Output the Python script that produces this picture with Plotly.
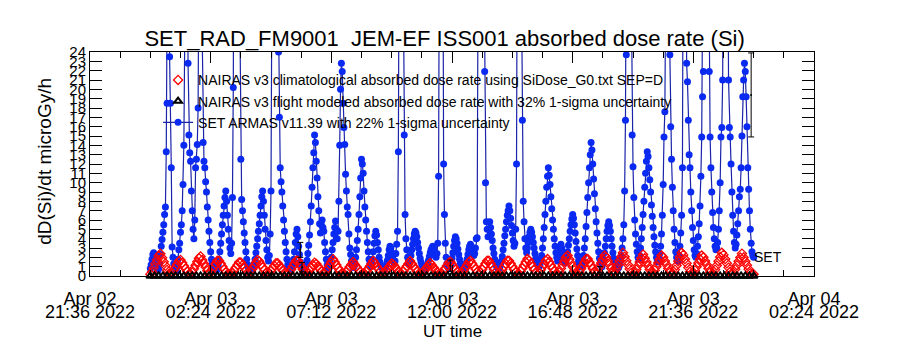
import pandas as pd
import plotly.graph_objects as go

# ---------------- data ----------------
START = pd.Timestamp("2022-04-03 00:00")

# SET ARMAS absorbed dose rate (microGy/h), 2-minute samples, one row per hour
SET_RATE_ROWS = [
    [0.8, 1.2, 1.8, 2.3, 2.5, 2.2, 1.6, 1.0, 0.7, 0.6, 0.8, 1.3, 2.3, 3.2, 3.9, 4.7, 5.5, 6.6, 7.4, 13.3, 18.5, 45, 60, 23.5, 18.5, 11.6, 3.1, 2.0, 1.3, 0.9],
    [0.8, 0.6, 1.0, 1.8, 2.8, 3.5, 4.7, 5.5, 7.0, 9.8, 14.0, 25, 60, 80, 40, 22.8, 15.1, 13.2, 12.3, 9.1, 7.0, 5.0, 4.0, 6.0, 11.6, 12.5, 14.1, 18.0, 35, 60],
    [70, 45, 25, 14.3, 12.3, 11.6, 10.1, 9.0, 7.4, 6.0, 4.8, 3.6, 2.6, 1.8, 1.3, 1.0, 0.8, 0.6, 0.5, 0.6, 0.8, 1.2, 1.8, 2.6, 3.5, 4.5, 5.5, 6.5, 7.5, 8.4],
    [9.1, 8.0, 6.5, 5.0, 3.8, 3.0, 2.4, 3.5, 8.4, 20.2, 50, 90, 100, 90, 70, 50, 35, 25, 12.5, 8.2, 7.0, 5.8, 4.6, 3.6, 2.6, 1.8, 1.2, 0.9, 0.7, 0.6],
    [0.6, 0.6, 0.7, 0.9, 1.3, 1.8, 2.5, 3.2, 4.0, 4.8, 5.6, 6.5, 7.5, 8.5, 9.1, 8.0, 6.5, 5.0, 3.8, 2.8, 2.0, 1.6, 2.2, 4.5, 9.1, 30, 70, 100, 100, 90],
    [70, 50, 35, 24, 17, 11.6, 10.1, 9.0, 7.5, 6.0, 4.8, 3.6, 2.6, 1.8, 1.2, 0.9, 0.7, 0.6, 0.7, 0.9, 1.3, 1.8, 2.6, 3.6, 4.5, 5.0, 4.2, 3.2, 2.3, 1.5],
    [1.0, 0.8, 0.6, 0.6, 0.7, 0.9, 1.2, 1.7, 2.4, 3.3, 4.4, 5.8, 7.5, 9.5, 11.6, 13.2, 15.1, 14.3, 12.3, 10.5, 8.5, 7.0, 5.6, 4.6, 5.5, 6.0, 5.2, 4.8, 3.6, 2.6],
    [1.8, 1.2, 0.9, 0.8, 1.0, 1.4, 2.0, 2.8, 3.6, 4.5, 5.2, 5.9, 5.0, 4.0, 4.8, 8.0, 14.0, 20.0, 22.8, 21.9, 18.5, 15.9, 14.1, 10.9, 9.1, 7.4, 6.6, 4.5, 3.0, 2.3],
    [1.6, 1.1, 0.9, 1.0, 1.4, 2.0, 2.8, 3.8, 5.0, 6.6, 8.5, 10.5, 12.5, 12.0, 11.0, 9.1, 7.4, 6.0, 4.8, 3.6, 2.6, 1.8, 1.3, 1.0, 1.2, 1.8, 2.6, 3.5, 4.3, 4.8],
    [4.4, 3.6, 2.8, 2.0, 1.5, 1.1, 0.9, 0.8, 0.7, 0.7, 0.8, 1.0, 1.3, 1.7, 2.2, 2.8, 3.2, 3.0, 2.5, 2.0, 1.6, 1.4, 1.6, 2.4, 3.4, 4.8, 13.3, 40, 90, 100],
    [80, 50, 30, 15.1, 6.6, 4.0, 2.8, 2.0, 1.5, 1.3, 1.6, 2.2, 2.8, 3.4, 4.0, 4.5, 4.8, 4.6, 4.2, 3.6, 3.0, 2.4, 1.9, 1.5, 1.2, 1.0, 0.8, 0.7, 0.7, 0.8],
    [1.0, 1.3, 1.7, 2.1, 2.5, 2.8, 3.0, 3.2, 3.0, 2.6, 2.2, 2.0, 2.4, 3.5, 10.7, 40, 90, 100, 70, 30, 12, 6.6, 3.5, 2.0, 1.3, 1.0, 0.8, 0.8, 1.0, 1.4],
    [1.9, 2.5, 3.2, 3.8, 4.2, 4.0, 3.5, 2.9, 2.3, 1.8, 1.4, 1.1, 0.9, 0.8, 0.8, 0.9, 1.1, 1.4, 1.8, 2.3, 2.8, 3.2, 3.4, 3.2, 2.8, 2.5, 2.2, 2.4, 3.0, 4.0],
    [4.1, 30, 70, 100, 100, 90, 70, 50, 35, 21.9, 10, 5.8, 5.0, 4.2, 5.0, 5.8, 5.2, 4.5, 3.8, 3.0, 2.4, 1.8, 1.4, 1.1, 0.9, 0.8, 0.8, 0.9, 1.2, 1.6],
    [2.1, 2.8, 3.5, 4.3, 5.0, 5.8, 6.5, 7.0, 7.5, 7.0, 6.2, 5.4, 4.6, 3.8, 3.2, 3.5, 5.0, 12, 40, 90, 100, 80, 50, 30, 16.7, 8.0, 5.8, 4.0, 3.0, 2.5],
    [3.0, 3.6, 4.2, 4.7, 5.0, 4.7, 4.2, 3.6, 3.0, 2.4, 1.9, 1.5, 1.2, 1.0, 1.0, 1.2, 1.6, 2.2, 3.0, 4.0, 5.2, 6.6, 8.0, 9.5, 10.7, 11.6, 10.8, 9.8, 8.5, 7.2],
    [6.0, 5.0, 4.0, 3.2, 2.5, 2.0, 1.6, 1.8, 2.4, 3.0, 3.4, 3.0, 2.5, 2.0, 1.6, 1.4, 1.6, 2.0, 2.6, 3.3, 4.0, 4.8, 5.5, 6.1, 6.6, 6.2, 5.5, 4.6, 3.7, 2.9],
    [2.2, 1.6, 1.2, 1.0, 1.0, 1.2, 1.6, 2.2, 3.0, 4.0, 5.3, 6.8, 8.4, 10.0, 11.6, 13.0, 14.3, 13.5, 12.0, 10.4, 8.8, 7.2, 5.8, 4.6, 3.5, 2.6, 1.9, 1.4, 1.1, 1.0],
    [1.3, 1.8, 2.5, 3.2, 4.0, 4.8, 5.4, 5.8, 5.4, 4.8, 4.0, 3.2, 2.5, 1.9, 1.4, 1.1, 0.9, 0.8, 0.8, 0.9, 1.2, 1.6, 2.2, 3.0, 4.0, 5.5, 9.1, 16.7, 23.7, 50],
    [90, 100, 80, 50, 30, 15.1, 11.7, 8.4, 6.0, 4.5, 3.4, 2.6, 2.0, 1.8, 2.2, 3.0, 4.0, 5.2, 6.6, 8.0, 9.5, 11.0, 12.3, 13.3, 12.8, 11.6, 10.3, 9.0, 7.6, 6.4],
    [5.2, 4.2, 3.3, 2.6, 2.0, 1.6, 1.5, 1.8, 2.4, 3.2, 4.5, 6.5, 9.8, 14.9, 17.6, 30, 70, 100, 100, 60, 23.7, 16.0, 12.5, 9.5, 7.0, 5.0, 3.6, 2.6, 2.0, 1.6],
    [1.6, 2.2, 3.2, 4.6, 6.5, 11.6, 40, 90, 100, 60, 22.8, 20.8, 16.7, 13.0, 11.6, 9.0, 7.0, 5.2, 3.8, 2.8, 2.2, 2.0, 2.4, 3.2, 4.2, 5.6, 7.5, 10.7, 14.9, 19.2],
    [21.9, 40, 80, 100, 100, 70, 40, 21.9, 14.9, 11.6, 9.0, 6.8, 5.2, 4.0, 3.2, 2.8, 3.0, 3.6, 5.0, 7.0, 10.0, 14.9, 15.9, 21.0, 40, 80, 100, 100, 70, 40],
    [21.0, 15.9, 14.9, 12.0, 9.0, 6.5, 4.8, 3.6, 3.0, 3.4, 4.4, 5.6, 7.0, 8.5, 9.3, 11.6, 15.0, 19.2, 21.0, 22.8, 21.9, 19.2, 16.0, 11.6, 9.3, 7.0, 5.0, 3.5, 2.6, 2.2, 2.0],
]
SET_STEP_MIN = 2

# NAIRAS v3 climatological absorbed dose rate, 4-minute samples, one row per hour
NAIRAS_CLIM_ROWS = [
    [0.2, 0.43, 0.87, 1.30, 1.74, 2.17, 2.39, 1.96, 1.52, 1.09, 0.65, 0.22, 0.2, 0.31, 0.63],
    [0.94, 1.25, 1.57, 1.72, 1.41, 1.10, 0.78, 0.47, 0.2, 0.2, 0.38, 0.77, 1.15, 1.53, 1.91],
    [2.1, 1.72, 1.34, 0.96, 0.57, 0.2, 0.39, 0.70, 1.02, 1.33, 1.64, 1.64, 1.33, 1.02, 0.70],
    [0.39, 0.2, 0.2, 0.2, 0.35, 0.63, 0.90, 1.18, 1.46, 1.46, 1.18, 0.90, 0.63, 0.35, 0.2],
    [0.47, 0.78, 1.10, 1.41, 1.72, 1.57, 1.25, 0.94, 0.63, 0.31, 0.2, 0.33, 0.59, 0.85, 1.11],
    [1.37, 1.37, 1.11, 0.85, 0.59, 0.33, 0.2, 0.2, 0.39, 0.70, 1.02, 1.33, 1.64, 1.64, 1.33],
    [1.02, 0.70, 0.39, 0.2, 0.39, 0.65, 0.91, 1.17, 1.43, 1.30, 1.04, 0.78, 0.52, 0.26, 0.23],
    [0.55, 0.86, 1.17, 1.49, 1.8, 1.49, 1.17, 0.86, 0.55, 0.23, 0.2, 0.2, 0.46, 0.72, 0.98],
    [1.24, 1.5, 1.24, 0.98, 0.72, 0.46, 0.2, 0.2, 0.21, 0.49, 0.77, 1.04, 1.32, 1.6, 1.32],
    [1.04, 0.77, 0.49, 0.21, 0.2, 0.37, 0.61, 0.85, 1.10, 1.34, 1.22, 0.97, 0.73, 0.49, 0.24],
    [0.21, 0.49, 0.77, 1.04, 1.32, 1.6, 1.32, 1.04, 0.77, 0.49, 0.21, 0.2, 0.2, 0.43, 0.67],
    [0.91, 1.16, 1.4, 1.16, 0.91, 0.67, 0.43, 0.2, 0.2, 0.28, 0.56, 0.83, 1.11, 1.39, 1.53],
    [1.25, 0.97, 0.70, 0.42, 0.2, 0.2, 0.30, 0.59, 0.89, 1.18, 1.48, 1.63, 1.33, 1.04, 0.74],
    [0.44, 0.2, 0.39, 0.70, 1.02, 1.33, 1.64, 1.64, 1.33, 1.02, 0.70, 0.39, 0.2, 0.2, 0.39],
    [0.70, 1.02, 1.33, 1.64, 1.64, 1.33, 1.02, 0.70, 0.39, 0.2, 0.2, 0.50, 0.83, 1.16, 1.49],
    [1.82, 1.65, 1.32, 0.99, 0.66, 0.33, 0.2, 0.33, 0.66, 0.99, 1.32, 1.65, 1.82, 1.49, 1.16],
    [0.83, 0.50, 0.2, 0.2, 0.4, 0.8, 1.2, 1.6, 2.0, 2.2, 1.8, 1.4, 1.0, 0.6, 0.2],
    [0.2, 0.43, 0.78, 1.13, 1.48, 1.83, 1.83, 1.48, 1.13, 0.78, 0.43, 0.2, 0.6, 1.0, 1.4],
    [1.8, 2.2, 2.0, 1.6, 1.2, 0.8, 0.4, 0.33, 0.76, 1.20, 1.63, 2.07, 2.5, 2.07, 1.63],
    [1.20, 0.76, 0.33, 0.2, 0.3, 0.7, 1.1, 1.5, 1.9, 2.3, 1.9, 1.5, 1.1, 0.7, 0.3],
    [0.2, 0.6, 1.0, 1.4, 1.8, 2.2, 2.0, 1.6, 1.2, 0.8, 0.4, 0.2, 0.23, 0.68, 1.13],
    [1.58, 2.03, 2.49, 2.26, 1.81, 1.36, 0.90, 0.45, 0.2, 0.2, 0.6, 1.0, 1.4, 1.8, 2.2],
    [2.0, 1.6, 1.2, 0.8, 0.4, 0.2, 0.23, 0.68, 1.13, 1.58, 2.03, 2.49, 2.26, 1.81, 1.36],
    [0.90, 0.45, 0.2, 0.31, 0.73, 1.15, 1.57, 1.98, 2.4, 1.98, 1.57, 1.15, 0.73, 0.31, 0.2, 0.2],
]
NAIRAS_CLIM_STEP_MIN = 4

# NAIRAS v3 flight-modeled absorbed dose rate, 10-minute samples (sits on zero)
NAIRAS_FLIGHT_ROWS = [
    [0, 0, 0, 0, 0, 0], [0, 0, 0, 0, 0, 0], [0, 0, 0, 0, 0, 0], [0, 0, 0, 0, 0, 0],
    [0, 0, 0, 0, 0, 0], [0, 0, 0, 0, 0, 0], [0, 0, 0, 0, 0, 0], [0, 0, 0, 0, 0, 0],
    [0, 0, 0, 0, 0, 0], [0, 0, 0, 0, 0, 0], [0, 0, 0, 0, 0, 0], [0, 0, 0, 0, 0, 0],
    [0, 0, 0, 0, 0, 0], [0, 0, 0, 0, 0, 0], [0, 0, 0, 0, 0, 0], [0, 0, 0, 0, 0, 0],
    [0, 0, 0, 0, 0, 0], [0, 0, 0, 0, 0, 0], [0, 0, 0, 0, 0, 0], [0, 0, 0, 0, 0, 0],
    [0, 0, 0, 0, 0, 0], [0, 0, 0, 0, 0, 0], [0, 0, 0, 0, 0, 0], [0, 0, 0, 0, 0, 0, 0],
]
NAIRAS_FLIGHT_STEP_MIN = 10

# points carrying 1-sigma error bars (minutes after 2022-04-03 00:00)
ERR_MINUTES = [358, 362, 716, 1073, 1434]
ERR_VALUES = [2.8, 0.95, 1.1, 0.7, 19.4]
ERR_SIGMA = [0.8, 0.5, 0.6, 0.3, 4.5]

X_TICK_VALS = ["2022-04-02 21:36", "2022-04-03 02:24", "2022-04-03 07:12", "2022-04-03 12:00",
               "2022-04-03 16:48", "2022-04-03 21:36", "2022-04-04 02:24"]
X_TICK_DATES = ["Apr 02", "Apr 03", "Apr 03", "Apr 03", "Apr 03", "Apr 03", "Apr 04"]
X_TICK_TIMES = ["21:36 2022", "02:24 2022", "07:12 2022", "12:00 2022", "16:48 2022", "21:36 2022", "02:24 2022"]
Y_TICKS = list(range(0, 25))

TITLE = "SET_RAD_FM9001  JEM-EF ISS001 absorbed dose rate (Si)"
LEG_CLIM = "NAIRAS v3 climatological absorbed dose rate using SiDose_G0.txt SEP=D"
LEG_FLIGHT = "NAIRAS v3 flight modeled absorbed dose rate with 32% 1-sigma uncertainty"
LEG_SET = "SET ARMAS v11.39 with 22% 1-sigma uncertainty"


def flatten(rows):
    return [v for r in rows for v in r]


def times(n, step):
    return [START + pd.Timedelta(minutes=step * i) for i in range(n)]


set_y = flatten(SET_RATE_ROWS)
set_x = times(len(set_y), SET_STEP_MIN)
clim_y = flatten(NAIRAS_CLIM_ROWS)
clim_x = times(len(clim_y), NAIRAS_CLIM_STEP_MIN)
fl_y = flatten(NAIRAS_FLIGHT_ROWS)
fl_x = times(len(fl_y), NAIRAS_FLIGHT_STEP_MIN)
err_x = [START + pd.Timedelta(minutes=m) for m in ERR_MINUTES]

FONT = "Liberation Sans, Arial, sans-serif"

fig = go.Figure()
fig.add_trace(go.Scatter(
    x=set_x, y=set_y, mode="lines+markers", name=LEG_SET, legendrank=3,
    line=dict(color="#1a24a8", width=1.2),
    marker=dict(color="#0a2af2", size=7, symbol="circle"),
))
fig.add_trace(go.Scatter(
    x=clim_x, y=clim_y, mode="markers", name=LEG_CLIM, legendrank=1,
    marker=dict(color="#ff0000", size=7, symbol="diamond-open", line=dict(width=1.3, color="#ff0000")),
))
fig.add_trace(go.Scatter(
    x=err_x, y=ERR_VALUES, mode="markers", showlegend=False, xaxis="x2",
    marker=dict(color="black", size=2),
    error_y=dict(type="data", array=ERR_SIGMA, color="black", thickness=1, width=3),
    cliponaxis=False,
))
fig.add_trace(go.Scatter(
    x=fl_x, y=fl_y, mode="markers", name=LEG_FLIGHT, legendrank=2, xaxis="x2",
    marker=dict(color="black", size=7, symbol="triangle-up-open", line=dict(width=2, color="black")),
    cliponaxis=False,
))

x_range = [X_TICK_VALS[0], X_TICK_VALS[-1]]
fig.update_layout(
    width=900, height=350,
    margin=dict(l=90, r=86, t=52, b=74),
    paper_bgcolor="white", plot_bgcolor="white",
    font=dict(family=FONT, color="black"),
    title=dict(text=TITLE, x=0.494, xanchor="center", y=1 - 38 / 350, yanchor="middle",
               yref="container", font=dict(size=22, family=FONT, color="black")),
    showlegend=True,
    legend=dict(x=0.094, y=0.945, xanchor="left", yanchor="top", bgcolor="rgba(0,0,0,0)",
                font=dict(size=14, family=FONT, color="black"), itemwidth=30, tracegroupgap=0),
    xaxis=dict(
        type="date", range=x_range, tickmode="array", tickvals=X_TICK_VALS, ticktext=X_TICK_DATES,
        ticks="inside", ticklen=11, tickcolor="black", showline=True, linecolor="black", linewidth=1,
        mirror="ticks", showgrid=False, zeroline=False, tickfont=dict(size=18, family=FONT),
        ticklabelstandoff=6,
        minor=dict(ticks="inside", ticklen=6, tickcolor="black", dtick=4320000, tick0=X_TICK_VALS[0], showgrid=False),
    ),
    xaxis2=dict(
        type="date", range=x_range, overlaying="x", anchor="free", position=0, side="bottom",
        tickmode="array", tickvals=X_TICK_VALS, ticktext=X_TICK_TIMES, ticks="", showline=False,
        showgrid=False, zeroline=False, tickfont=dict(size=18, family=FONT), ticklabelstandoff=23,
    ),
    yaxis=dict(
        range=[0, 24], tickmode="array", tickvals=Y_TICKS, ticks="inside", ticklen=12, tickcolor="black",
        showline=True, linecolor="black", linewidth=1, mirror="ticks", showgrid=False, zeroline=False,
        tickfont=dict(size=15, family=FONT),
    ),
    annotations=[
        dict(text="dD(Si)/dt microGy/h", textangle=-90, xref="paper", yref="paper",
             x=(45 - 90) / 724, y=0.51, xanchor="center", yanchor="middle", showarrow=False,
             font=dict(size=19, family=FONT)),
        dict(text="UT time", xref="paper", yref="paper", x=0.5, y=-55 / 224, xanchor="center",
             yanchor="middle", showarrow=False, font=dict(size=17, family=FONT)),
        dict(text="SET", xref="paper", yref="paper", x=(752 - 90) / 724, y=19 / 224, xanchor="left",
             yanchor="middle", showarrow=False, font=dict(size=14, family=FONT)),
    ],
)

fig.write_html("out.html")
